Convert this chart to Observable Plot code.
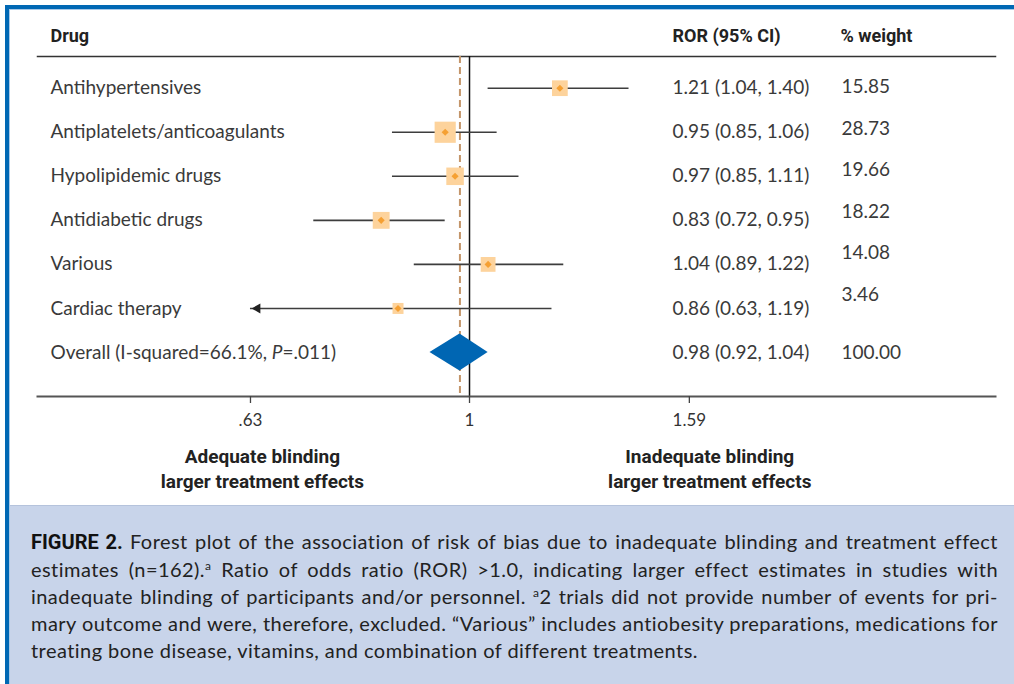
<!DOCTYPE html>
<html>
<head>
<meta charset="utf-8">
<script src="https://cdn.jsdelivr.net/npm/d3@7"></script>
<script src="https://cdn.jsdelivr.net/npm/@observablehq/plot@0.6"></script>
<style>
html, body { margin: 0; padding: 0; background: #fff; }
#page { position: relative; width: 1014px; height: 684px; overflow: hidden; background: #fff; }
#chart { position: absolute; left: 0; top: 0; }
#topbar { position: absolute; left: 5px; top: 5px; right: 0; height: 4px; background: #0068b4; }
#topbar2 { position: absolute; left: 9px; top: 9px; right: 0; height: 1px; background: #a9c9e8; }
#leftbar { position: absolute; left: 5px; top: 5px; bottom: 0; width: 4px; background: #0068b4; }
#leftbar2 { position: absolute; left: 9px; top: 9px; bottom: 0; width: 1px; background: #a9c9e8; }
#caption { position: absolute; left: 10px; top: 505px; right: 0; bottom: 0; background: #c8d4ea; border-top: 1px solid #b5c3dc; }
#caption .inner { position: absolute; left: 21px; top: 22px; width: 967px; font-family: Lato, "Open Sans", sans-serif; font-size: 20px; letter-spacing: 0.45px; line-height: 27px; color: #222; }
#caption .ln { text-align: justify; text-align-last: justify; white-space: nowrap; }
#caption .ln.last { text-align: left; text-align-last: left; }
#caption b { font-family: Roboto, sans-serif; font-weight: 700; color: #111; letter-spacing: 0; }
#caption sup { font-size: 12px; line-height: 0; vertical-align: 7px; }
</style>
</head>
<body>
<div id="page">
  <div id="chart"></div>
  <div id="caption"><div class="inner" id="capText"></div></div>
  <div id="topbar"></div><div id="topbar2"></div>
  <div id="leftbar"></div><div id="leftbar2"></div>
</div>
<script>
// ---------- data ----------
const drugs = ["Antihypertensives", "Antiplatelets/anticoagulants", "Hypolipidemic drugs", "Antidiabetic drugs", "Various", "Cardiac therapy"];
const ror = [1.21, 0.95, 0.97, 0.83, 1.04, 0.86];
const ciLower = [1.04, 0.85, 0.85, 0.72, 0.89, 0.63];
const ciUpper = [1.40, 1.06, 1.11, 0.95, 1.22, 1.19];
const weights = [15.85, 28.73, 19.66, 18.22, 14.08, 3.46];
const overallLabel = "Overall (I-squared=66.1%, P=.011)";
const overallRor = 0.98, overallLower = 0.92, overallUpper = 1.04, overallWeight = 100.00;
const columnHeaders = ["Drug", "ROR (95% CI)", "% weight"];
const xTicks = [0.63, 1, 1.59];
const xTickLabels = [".63", "1", "1.59"];
const sideLabels = ["Adequate blinding\nlarger treatment effects", "Inadequate blinding\nlarger treatment effects"];
const sideLabelAt = [0.646, 1.66];
const captionLines = [
  "<b>FIGURE 2.</b> Forest plot of the association of risk of bias due to inadequate blinding and treatment effect",
  "estimates (n=162).<sup>a</sup> Ratio of odds ratio (ROR) &gt;1.0, indicating larger effect estimates in studies with",
  "inadequate blinding of participants and/or personnel. <sup>a</sup>2 trials did not provide number of events for pri-",
  "mary outcome and were, therefore, excluded. \u201cVarious\u201d includes antiobesity preparations, medications for",
  "treating bone disease, vitamins, and combination of different treatments."
];

// ---------- build table ----------
const f2 = v => v.toFixed(2);
const rows = drugs.map((d, i) => ({
  i, drug: d, ror: ror[i], lo: ciLower[i], hi: ciUpper[i], w: weights[i],
  ci: `${f2(ror[i])} (${f2(ciLower[i])}, ${f2(ciUpper[i])})`,
  wt: f2(weights[i])
}));
const oi = drugs.length;
const overallRow = { i: oi, drug: overallLabel, ror: overallRor, lo: overallLower, hi: overallUpper, w: overallWeight,
  ci: `${f2(overallRor)} (${f2(overallLower)}, ${f2(overallUpper)})`, wt: f2(overallWeight) };
const allRows = [...rows, overallRow];
const truncated = rows.filter(r => r.lo <= xTicks[0]);
const diamondH = 0.42;
const diamond = [
  { x: overallLower, y1: oi, y2: oi },
  { x: overallRor, y1: oi - diamondH, y2: oi + diamondH },
  { x: overallUpper, y1: oi, y2: oi }
];

const bodyFont = "Lato, 'Open Sans', sans-serif";
const headFont = "Roboto, 'Liberation Sans', sans-serif";

const plot = Plot.plot({
  width: 1014,
  height: 505,
  marginLeft: 37,
  marginRight: 19,
  marginTop: 56,
  marginBottom: 109,
  style: { fontFamily: bodyFont, color: "#333", background: "transparent" },
  x: { type: "log", domain: [0.402, 3.033] },
  y: { type: "linear", domain: [0, oi], range: [87.7, 352], axis: null },
  r: { type: "identity" },
  marks: [
    Plot.frame({ anchor: "top", stroke: "#333", strokeWidth: 1.5 }),
    Plot.ruleX([overallRor], { stroke: "#c4956a", strokeWidth: 2, strokeDasharray: "7,4" }),
    Plot.ruleX([1], { stroke: "#111", strokeWidth: 1.5 }),
    Plot.ruleY(rows, { y: "i", x1: "lo", x2: "hi", stroke: "#3d3d3d", strokeWidth: 1.6 }),
    Plot.dot(truncated, { x: "lo", y: "i", symbol: "triangle2", rotate: -90, r: 4.8, dx: 7, fill: "#222", stroke: "none" }),
    Plot.dot(rows, { x: "ror", y: "i", symbol: "square", r: d => Math.max(11, 3.95 * Math.sqrt(d.w)) / Math.sqrt(Math.PI), fill: "#fdd39c", stroke: "none" }),
    Plot.dot(rows, { x: "ror", y: "i", symbol: "diamond2", r: 3.2, fill: "#f5a033", stroke: "none" }),
    Plot.areaY(diamond, { x: "x", y1: "y1", y2: "y2", fill: "#0066b3", curve: "linear" }),
    Plot.frame({ anchor: "bottom", stroke: "#555", strokeWidth: 2 }),
    Plot.axisX({ ticks: xTicks, tickFormat: d => xTickLabels[xTicks.indexOf(d)], tickSize: 7, tickPadding: 10,
      fontSize: 17, stroke: "#444", strokeWidth: 1.3, label: null, fill: "#333" }),
    // column headers
    ...columnHeaders.map((h, k) => Plot.text([h], { frameAnchor: "top-left", text: d => d, dx: [13, 635, 803][k], dy: -20,
      lineAnchor: "middle", textAnchor: "start", fontFamily: headFont, fontWeight: 700, fontSize: 18, fill: "#222" })),
    // row labels
    Plot.text(allRows, { frameAnchor: "left", y: "i", text: "drug", dx: 13, textAnchor: "start", fontSize: 19, fill: "#3a3a3a" }),
    Plot.text(allRows, { frameAnchor: "left", y: "i", text: "ci", dx: 635, textAnchor: "start", fontSize: 19, fill: "#3a3a3a" }),
    Plot.text(allRows, { frameAnchor: "left", y: d => d.i < oi ? d.i - (1 + 2.5 * d.i) / 44 : d.i, text: "wt", dx: 804, textAnchor: "start", fontSize: 19, fill: "#3a3a3a" }),
    // side labels
    Plot.text(sideLabels, { x: (d, k) => sideLabelAt[k], frameAnchor: "bottom", text: d => d, dy: 71, lineAnchor: "middle", lineHeight: 1.3,
      fontFamily: headFont, fontWeight: 700, fontSize: 19, fill: "#222", textAnchor: "middle" })
  ]
});

// italic P in the overall label
d3.select(plot).selectAll("text").filter(function () { return this.textContent === overallLabel; })
  .each(function () {
    const t = d3.select(this);
    t.text(null);
    t.append("tspan").text("Overall (I-squared=66.1%, ");
    t.append("tspan").attr("font-style", "italic").text("P");
    t.append("tspan").text("=.011)");
  });

document.getElementById("chart").appendChild(plot);

const cap = document.getElementById("capText");
captionLines.forEach((l, k) => {
  const div = document.createElement("div");
  div.className = "ln" + (k === captionLines.length - 1 ? " last" : "");
  div.innerHTML = l;
  cap.appendChild(div);
});
</script>
</body>
</html>
